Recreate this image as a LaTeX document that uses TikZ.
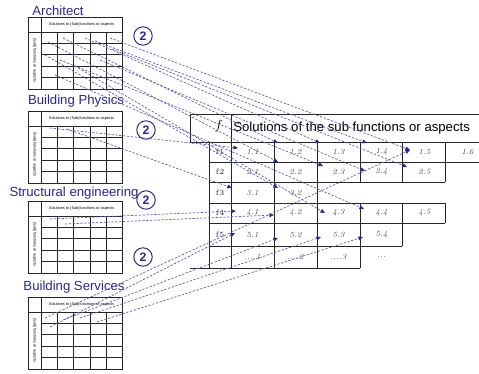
\documentclass[tikz,border=0pt]{standalone}
\usepackage{fontspec}
\newfontfamily\arialfont{Liberation Sans}
\usetikzlibrary{arrows.meta}

\definecolor{azul}{RGB}{40,40,140}
\definecolor{azulclaro}{RGB}{95,95,175}

\tikzset{
  titulo/.style={text=azul, font=\arialfont\fontsize{7.5}{8}\selectfont, inner sep=0pt},
  circulo/.style={circle, draw=azul, line width=0.55pt, text=azul,
    font=\arialfont\bfseries\fontsize{7}{7}\selectfont, minimum size=10.5pt, inner sep=0pt},
  tabla/.style={line width=0.5pt, black!85},
  minicab/.style={font=\arialfont\fontsize{2.2}{3}\selectfont, inner sep=0pt},
  minivert/.style={minicab, rotate=-90},
  celda/.style={font=\fontsize{4.5}{5}\selectfont\itshape, text=black!70, inner sep=0pt},
  fila/.style={font=\fontsize{4.5}{5}\selectfont, text=black!80, inner sep=0pt},
  enlace/.style={azulclaro, line width=0.4pt, dash pattern=on 1.3pt off 0.9pt,
    -{Triangle[length=2.6pt, width=2.2pt, color=azul]}},
}

% Matriz pequena: #1 = nombre, #2 = borde superior
\newcommand{\matrizchica}[2]{%
  \draw[tabla] (28,#2) rectangle (122,#2+72);
  \draw[tabla] (41,#2) -- (41,#2+72);
  \draw[tabla] (28,#2+15) -- (122,#2+15);
  \foreach \c in {57,73,90,106} \draw[tabla] (\c,#2+15) -- (\c,#2+72);
  \foreach \r in {1,...,4} \draw[tabla] (41,#2+15+\r*11.4) -- (122,#2+15+\r*11.4);
  \node[minicab] (#1cab) at (81.5,#2+7.5) {Solutions to (Sub)functions or aspects};
  \node[minivert] (#1vert) at (34.5,#2+43.5) {(Sub)functions or aspects};
}

\begin{document}
\begin{tikzpicture}[x=0.02cm, y=-0.02cm] % unidades en pixeles
    \useasboundingbox (0,0) rectangle (479,373);
    % Disciplinas
    \node[titulo] (tarq) at (58,11) {Architect};
    \node[titulo] (tfis) at (76,101) {Building Physics};
    \node[titulo] (test) at (74,193) {Structural engineering};
    \node[titulo] (tins) at (74,287) {Building Services};
    \matrizchica{arq}{17}
    \matrizchica{fis}{111}
    \matrizchica{est}{201}
    \matrizchica{ins}{297}
    % Circulos
    \node[circulo] (dos1) at (143,36) {2};
    \node[circulo] (dos2) at (146,130) {2};
    \node[circulo] (dos3) at (146,200) {2};
    \node[circulo] (dos4) at (143,257) {2};
    % Tabla grande: cabecera
    \draw[tabla] (190,142) -- (190,114) -- (479,114);
    \draw[tabla] (231,114) -- (231,268);
    \node[inner sep=0pt, font=\fontsize{7.5}{8}\selectfont\itshape] (fcab) at (218,126) {f};
    \node[titulo, text=black, font=\arialfont\fontsize{7.5}{8}\selectfont, anchor=west]
      (tcab) at (233,128) {Solutions of the sub functions or aspects};
    % Lineas horizontales
    \draw[tabla] (190,142) -- (488,142);
    \draw[tabla] (209,162) -- (488,162);
    \draw[tabla] (209,182) -- (445,182);
    \draw[tabla] (209,203) -- (445,203);
    \draw[tabla] (209,223) -- (445,223);
    \draw[tabla] (209,246) -- (402,246);
    \draw[tabla] (190,268) -- (360,268);
    % Lineas verticales
    \draw[tabla] (209,142) -- (209,268);
    \draw[tabla] (274,142) -- (274,268);
    \draw[tabla] (317,142) -- (317,268);
    \draw[tabla] (360,142) -- (360,182) (360,203) -- (360,268);
    \draw[tabla] (402,142) -- (402,182) (402,203) -- (402,246);
    \draw[tabla] (445,142) -- (445,182) (445,203) -- (445,223);
    % Celdas: fila/altura/numero de celdas
    \foreach \f/\y/\m in {1/152/6, 2/172/5, 3/192.5/2, 4/213/5, 5/234.5/4} {
      \node[fila] (f\f) at (220,\y) {f\f};
      \foreach \n in {1,...,\m}
        \node[celda] (c\f\n) at (209.5+43*\n,\y) {\f.\n};
    }
    \node[celda] (c61) at (252.5,257) {....1};
    \node[celda] (c62) at (295.5,257) {....2};
    \node[celda] (c63) at (338.5,257) {....3};
    \node[celda] (c64) at (381.5,257) {...};
    % Origenes en las matrices pequenas
    \coordinate (a1) at (48,42);   \coordinate (a2) at (63,38);
    \coordinate (a3) at (85,38);   \coordinate (a4) at (95,41);
    \coordinate (a5) at (110,38);  \coordinate (a6) at (45,55);
    \coordinate (a7) at (60,60);   \coordinate (a8) at (75,66);
    \coordinate (a9) at (100,60);  \coordinate (a10) at (55,75);
    \coordinate (a11) at (112,49);
    \coordinate (p1) at (50,128);  \coordinate (p2) at (67,129);
    \coordinate (e1) at (50,219);  \coordinate (e2) at (65,224);
    \coordinate (s1) at (45,318);  \coordinate (s2) at (50,327);
    \coordinate (s3) at (63,320);  \coordinate (s4) at (80,318);
    \coordinate (s5) at (97,322);
    % Destinos en la tabla grande
    \coordinate (t11) at (238,148); \coordinate (t12) at (278,143);
    \coordinate (t13) at (320,143); \coordinate (t14) at (367,143);
    \coordinate (t15) at (410,150);
    \coordinate (t22) at (278,162); \coordinate (t23) at (323,166);
    \coordinate (t24) at (365,171); \coordinate (t25) at (407,167);
    \coordinate (t31) at (232,188); \coordinate (t32) at (278,188);
    \coordinate (t41) at (236,211); \coordinate (t42) at (274,215);
    \coordinate (t43) at (325,213); \coordinate (t44) at (364,209);
    \coordinate (t51) at (235,233); \coordinate (t52) at (278,238);
    \coordinate (t53) at (321,237); \coordinate (t54) at (363,237);
    % Enlaces
    \foreach \a/\t in {a1/t22, a2/t12, a3/t13, a4/t14, a5/t15, a6/t32, a7/t23,
        a8/t43, a9/t24, a10/t44, a11/t25, p1/t11, p2/t31, e1/t41, e2/t42,
        s1/t15, s2/t51, s3/t52, s4/t53, s5/t54}
      \draw[enlace] (\a) -- (\t);
\end{tikzpicture}
\end{document}
